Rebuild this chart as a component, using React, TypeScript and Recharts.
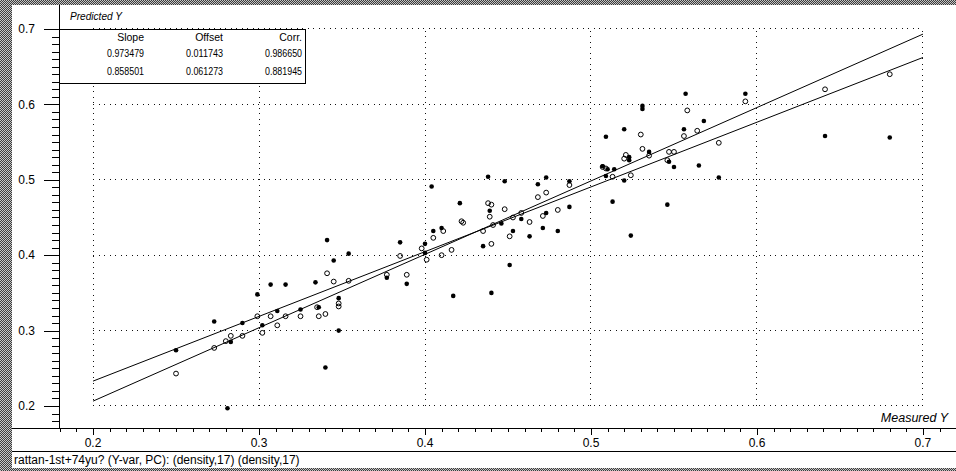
import { ScatterChart, Scatter, XAxis, YAxis, ReferenceLine } from "recharts";

// calibration samples (filled dots)
const filledMeasured = [
  0.25, 0.273, 0.281, 0.283, 0.29, 0.299, 0.302, 0.307, 0.311, 0.316, 0.325, 0.334,
  0.336, 0.34, 0.341, 0.345, 0.348, 0.348, 0.354, 0.377, 0.385, 0.389, 0.4, 0.4,
  0.404, 0.405, 0.41, 0.417, 0.421, 0.435, 0.44, 0.438, 0.439, 0.448, 0.446, 0.451,
  0.453, 0.458, 0.463, 0.468, 0.473, 0.471, 0.473, 0.48, 0.487, 0.487, 0.509, 0.52,
  0.531, 0.531, 0.535, 0.523, 0.523, 0.507, 0.51, 0.514, 0.509, 0.52, 0.513, 0.524,
  0.546, 0.557, 0.556, 0.568, 0.547, 0.55, 0.565, 0.577, 0.593, 0.641, 0.68,
];
const filledPredicted = [
  0.274, 0.312, 0.197, 0.285, 0.31, 0.348, 0.307, 0.361, 0.326, 0.361, 0.328, 0.364,
  0.331, 0.251, 0.42, 0.393, 0.343, 0.3, 0.402, 0.37, 0.417, 0.362, 0.415, 0.403,
  0.491, 0.432, 0.436, 0.346, 0.469, 0.412, 0.35, 0.504, 0.459, 0.498, 0.442, 0.387,
  0.432, 0.448, 0.425, 0.494, 0.503, 0.436, 0.456, 0.432, 0.464, 0.498, 0.557, 0.567,
  0.598, 0.594, 0.537, 0.53, 0.526, 0.518, 0.514, 0.514, 0.505, 0.499, 0.471, 0.426,
  0.467, 0.614, 0.567, 0.578, 0.524, 0.517, 0.519, 0.503, 0.614, 0.558, 0.556,
];

// validation samples (open circles)
const openMeasured = [
  0.25, 0.273, 0.28, 0.283, 0.29, 0.299, 0.302, 0.307, 0.311, 0.316, 0.325, 0.335,
  0.336, 0.34, 0.341, 0.345, 0.348, 0.348, 0.354, 0.377, 0.385, 0.389, 0.401, 0.398,
  0.405, 0.41, 0.411, 0.416, 0.422, 0.423, 0.435, 0.44, 0.438, 0.44, 0.439, 0.441,
  0.448, 0.451, 0.453, 0.458, 0.463, 0.468, 0.473, 0.471, 0.48, 0.487, 0.53, 0.531,
  0.535, 0.52, 0.521, 0.507, 0.509, 0.513, 0.524, 0.558, 0.556, 0.564, 0.547, 0.55,
  0.546, 0.577, 0.593, 0.641, 0.68,
];
const openPredicted = [
  0.243, 0.277, 0.286, 0.293, 0.293, 0.319, 0.297, 0.319, 0.307, 0.319, 0.319, 0.331,
  0.319, 0.322, 0.376, 0.365, 0.336, 0.332, 0.366, 0.374, 0.399, 0.374, 0.394, 0.409,
  0.423, 0.4, 0.432, 0.407, 0.445, 0.443, 0.432, 0.415, 0.469, 0.467, 0.451, 0.44,
  0.461, 0.425, 0.45, 0.456, 0.444, 0.477, 0.483, 0.452, 0.46, 0.493, 0.56, 0.541,
  0.532, 0.528, 0.533, 0.517, 0.515, 0.504, 0.506, 0.592, 0.558, 0.565, 0.537, 0.537,
  0.526, 0.549, 0.604, 0.62, 0.64,
];

// regression table
const fitSlope = [0.973479, 0.858501];
const fitOffset = [0.011743, 0.061273];
const fitCorr = [0.98665, 0.881945];
const tableHeads = ["Slope", "Offset", "Corr."];

const majorTicks = [0.2, 0.3, 0.4, 0.5, 0.6, 0.7];
const X_DOMAIN = [0.1795, 0.7199];
const Y_DOMAIN = [0.1708, 0.7318];

const FONT = "'Liberation Sans', Arial, sans-serif";

function hundredths(from: number, to: number) {
  const out: number[] = [];
  for (let i = Math.round(from * 100); i <= Math.round(to * 100); i++) out.push(i / 100);
  return out;
}
const xTicks = hundredths(0.18, 0.71);
const yTicks = hundredths(0.18, 0.7);
const isMajor = (v: number) => Math.round(v * 100) % 10 === 0;

const filledPts = filledMeasured.map((x, i) => ({ x, y: filledPredicted[i] }));
const openPts = openMeasured.map((x, i) => ({ x, y: openPredicted[i] }));

function YTick(props: any) {
  const { x, y, payload } = props;
  const major = isMajor(payload.value);
  const yy = Math.round(y) + 0.5;
  return (
    <g>
      <line x1={x - (major ? 15 : 7)} x2={x} y1={yy} y2={yy} stroke="#000" />
      {major && (
        <text x={x - 24} y={y + 4.3} textAnchor="end" fontSize={12} fontFamily={FONT} fill="#000">
          {payload.value.toFixed(1)}
        </text>
      )}
    </g>
  );
}

function XTick(props: any) {
  const { x, y, payload } = props;
  const major = isMajor(payload.value);
  const xx = Math.round(x) + 0.5;
  return (
    <g>
      <line x1={xx} x2={xx} y1={y} y2={y + (major ? 7 : 4)} stroke="#000" />
      {major && (
        <text x={x} y={y + 19} textAnchor="middle" fontSize={12} fontFamily={FONT} fill="#000">
          {payload.value.toFixed(1)}
        </text>
      )}
    </g>
  );
}

const FilledDot = (p: any) => <circle cx={p.cx} cy={p.cy} r={2.3} fill="#000" />;
const OpenDot = (p: any) => <circle cx={p.cx} cy={p.cy} r={2.4} fill="none" stroke="#000" strokeWidth={1} />;

const dotted = { stroke: "#111", strokeDasharray: "1 4.5", shapeRendering: "crispEdges" } as const;

export default function App() {
  const colRight = [144, 223, 302];
  const rowBase = [57, 75];
  return (
    <div
      style={{
        position: "relative",
        width: 956,
        height: 471,
        background: "repeating-conic-gradient(#3c3c3c 0% 25%, #c4c4c4 0% 50%) 0 0 / 2px 2px",
        overflow: "hidden",
      }}
    >
      <style>{"body{margin:0}"}</style>
      <div style={{ position: "absolute", left: 12, top: 5, width: 944, height: 463, background: "#fff" }} />
      <div style={{ position: "absolute", left: 0, top: 0 }}>
        <ScatterChart width={956} height={451} margin={{ top: 5, right: 0, bottom: 0, left: 0 }}>
          <XAxis
            type="number"
            dataKey="x"
            domain={X_DOMAIN}
            allowDataOverflow
            ticks={xTicks}
            interval={0}
            tick={<XTick />}
            tickSize={0}
            tickMargin={0}
            tickLine={false}
            axisLine={false}
            height={23}
          />
          <YAxis
            type="number"
            dataKey="y"
            domain={Y_DOMAIN}
            allowDataOverflow
            ticks={yTicks}
            interval={0}
            tick={<YTick />}
            tickSize={0}
            tickMargin={0}
            tickLine={false}
            axisLine={false}
            width={59}
          />
          {majorTicks.map((v) => (
            <ReferenceLine
              key={"h" + v}
              segment={[{ x: 0.2, y: v }, { x: 0.7, y: v }]}
              {...dotted}
            />
          ))}
          {majorTicks.map((v) => (
            <ReferenceLine
              key={"v" + v}
              segment={[{ x: v, y: 0.2 }, { x: v, y: 0.7 }]}
              {...dotted}
            />
          ))}
          {fitSlope.map((s, i) => (
            <ReferenceLine
              key={"fit" + i}
              segment={[
                { x: 0.2, y: s * 0.2 + fitOffset[i] },
                { x: 0.7, y: s * 0.7 + fitOffset[i] },
              ]}
              stroke="#000"
              strokeWidth={1}
            />
          ))}
          <Scatter data={openPts} shape={OpenDot} isAnimationActive={false} />
          <Scatter data={filledPts} shape={FilledDot} isAnimationActive={false} />
        </ScatterChart>
      </div>
      <svg
        width={956}
        height={471}
        style={{ position: "absolute", left: 0, top: 0, pointerEvents: "none" }}
        fontFamily={FONT}
      >
        {/* axes frame and status bar divider */}
        <line x1={59.5} x2={59.5} y1={5} y2={428} stroke="#000" />
        <line x1={12} x2={956} y1={428.5} y2={428.5} stroke="#000" />
        <line x1={12} x2={956} y1={451.5} y2={451.5} stroke="#000" />

        {/* regression table */}
        <rect x={59.5} y={29.5} width={246} height={54} fill="#fff" stroke="#000" />
        <line x1={44} x2={60} y1={29.5} y2={29.5} stroke="#000" />
        <text x={70} y={20} fontSize={11} fontStyle="italic" textLength={52} lengthAdjust="spacingAndGlyphs">
          Predicted Y
        </text>
        {tableHeads.map((h, i) => (
          <text key={h} x={colRight[i]} y={41} fontSize={10.5} textAnchor="end">
            {h}
          </text>
        ))}
        {[fitSlope, fitOffset, fitCorr].map((col, i) =>
          col.map((v, r) => (
            <text
              key={i + "-" + r}
              x={colRight[i] - 37}
              y={rowBase[r]}
              fontSize={10}
              textLength={37}
              lengthAdjust="spacingAndGlyphs"
            >
              {v.toFixed(6)}
            </text>
          ))
        )}

        <text x={948} y={422} fontSize={12.5} fontStyle="italic" textAnchor="end">
          Measured Y
        </text>
        <text x={14} y={464} fontSize={12}>
          rattan-1st+74yu? (Y-var, PC): (density,17) (density,17)
        </text>
      </svg>
    </div>
  );
}
